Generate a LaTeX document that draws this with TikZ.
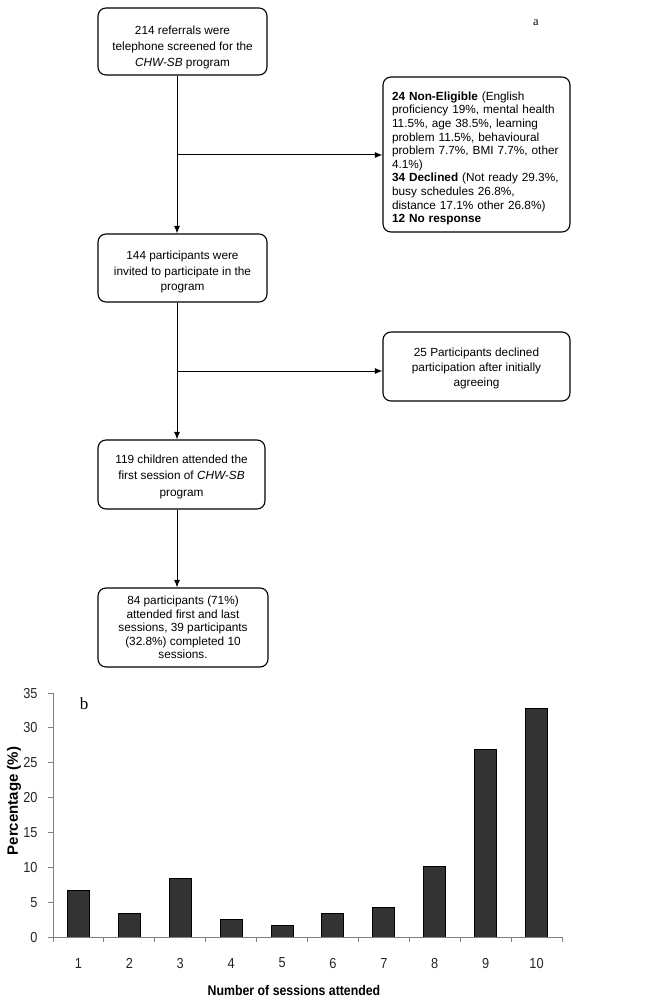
\documentclass[tikz,border=0pt]{standalone}
\usepackage{fontspec}
\setmainfont{Liberation Sans}
\newfontfamily\serifa{Liberation Serif}
\newfontfamily\chartf[FakeStretch=0.88]{Liberation Sans}
\usetikzlibrary{arrows.meta}
\definecolor{barc}{HTML}{333333}
\definecolor{axisc}{HTML}{808080}
\newcommand\shup[1]{\rule{0pt}{#1pt}}
\tikzset{
  flowbox/.style={draw, line width=1.1pt, rounded corners=8pt, align=center, inner sep=0pt},
  arr/.style={line width=1pt, -{Latex[length=7.5pt,width=6pt]}},
  axisline/.style={draw=axisc, line width=1pt},
  barbox/.style={draw=black, fill=barc, line width=1pt},
  ticklab/.style={font=\chartf\fontsize{14.5}{16}\selectfont, text=black!85},
}
\begin{document}
\begin{tikzpicture}[x=1pt,y=-1pt]
\useasboundingbox (0,0) rectangle (668,1000);
\fill[white] (0,0) rectangle (668,1000);

% flow chart
\node[flowbox, minimum width=169pt, minimum height=67pt, font=\fontsize{11.8}{15.7}\selectfont] (box1) at (182.5,41.5)
  {\shup{20.6}214 referrals were\\telephone screened for the\\\textit{CHW-SB} program};
\node[flowbox, minimum width=169pt, minimum height=68pt, font=\fontsize{11.8}{15.7}\selectfont] (box2) at (182.5,268)
  {\shup{17}144 participants were\\invited to participate in the\\program};
\node[flowbox, minimum width=167pt, minimum height=69pt, font=\fontsize{11.8}{16.4}\selectfont] (box3) at (181.5,474.5)
  {\shup{13}119 children attended the\\first session of \textit{CHW-SB}\\program};
\node[flowbox, minimum width=170pt, minimum height=79pt, font=\fontsize{11.8}{13.4}\selectfont] (box4) at (183,627.5)
  {84 participants (71\%)\\attended first and last\\sessions, 39 participants\\(32.8\%) completed 10\\sessions.};
\node[flowbox, align=left, text width=169pt, inner xsep=9pt, minimum height=155pt, font=\fontsize{11.8}{13.6}\selectfont] (rbox1) at (476.5,154.5)
  {\shup{16.6}\textbf{24 Non-Eligible} (English\\proficiency 19\%, mental health\\11.5\%, age 38.5\%, learning\\problem 11.5\%, behavioural\\problem 7.7\%, BMI 7.7\%, other\\4.1\%)\\\textbf{34 Declined} (Not ready 29.3\%,\\busy schedules 26.8\%,\\distance 17.1\% other 26.8\%)\\\textbf{12 No response}};
\node[flowbox, minimum width=187pt, minimum height=69pt, font=\fontsize{11.8}{15}\selectfont] (rbox2) at (476.5,366.5)
  {\shup{12.6}25 Participants declined\\participation after initially\\agreeing};

\node[font=\serifa\fontsize{12.5}{14}\selectfont] (lba) at (536,23) {a};

\coordinate (tk) at (177,0);
\coordinate (br1) at (177,155);
\coordinate (br2) at (177,371);
\draw[arr] (box1.south -| tk) -- (box2.north -| tk);
\draw[arr] (box2.south -| tk) -- (box3.north -| tk);
\draw[arr] (box3.south -| tk) -- (box4.north -| tk);
\draw[arr] (br1) -- (br1 -| rbox1.west);
\draw[arr] (br2) -- (br2 -| rbox2.west);

% bar chart
\coordinate (O) at (53,937);
\coordinate (Ytop) at (53,693);
\coordinate (Xend) at (562,937);
\foreach \i/\v in {1/6.7,2/3.4,3/8.4,4/2.5,5/1.7,6/3.4,7/4.2,8/10.1,9/26.9,10/32.8}{
  \draw[barbox] ({53+50.9*(\i-0.5)-11},937) rectangle ++(22,{-6.971*\v});
}
\draw[axisline] (Ytop) -- (O) -- (Xend);
\foreach \v in {0,5,...,35}{
  \draw[axisline] (48,{937-6.971*\v}) -- (53,{937-6.971*\v});
  \node[ticklab, anchor=east] (yt\v) at (41,{937-6.971*\v}) {\v};
}
\foreach \i in {0,...,10}{
  \draw[axisline] ({53+50.9*\i},937) -- ({53+50.9*\i},942);
}
\foreach \i in {1,...,10}{
  \node[ticklab] (xt\i) at ({53+50.9*(\i-0.5)},963) {\i};
}
\node[font=\chartf\bfseries\fontsize{14}{16}\selectfont] (xlab) at (294,990) {Number of sessions attended};
\node[rotate=90, font=\bfseries\fontsize{15}{17}\selectfont] (ylab) at (14,801) {Percentage (\%)};
\node[font=\serifa\fontsize{17}{19}\selectfont] (lbb) at (84,704) {b};
\end{tikzpicture}
\end{document}
